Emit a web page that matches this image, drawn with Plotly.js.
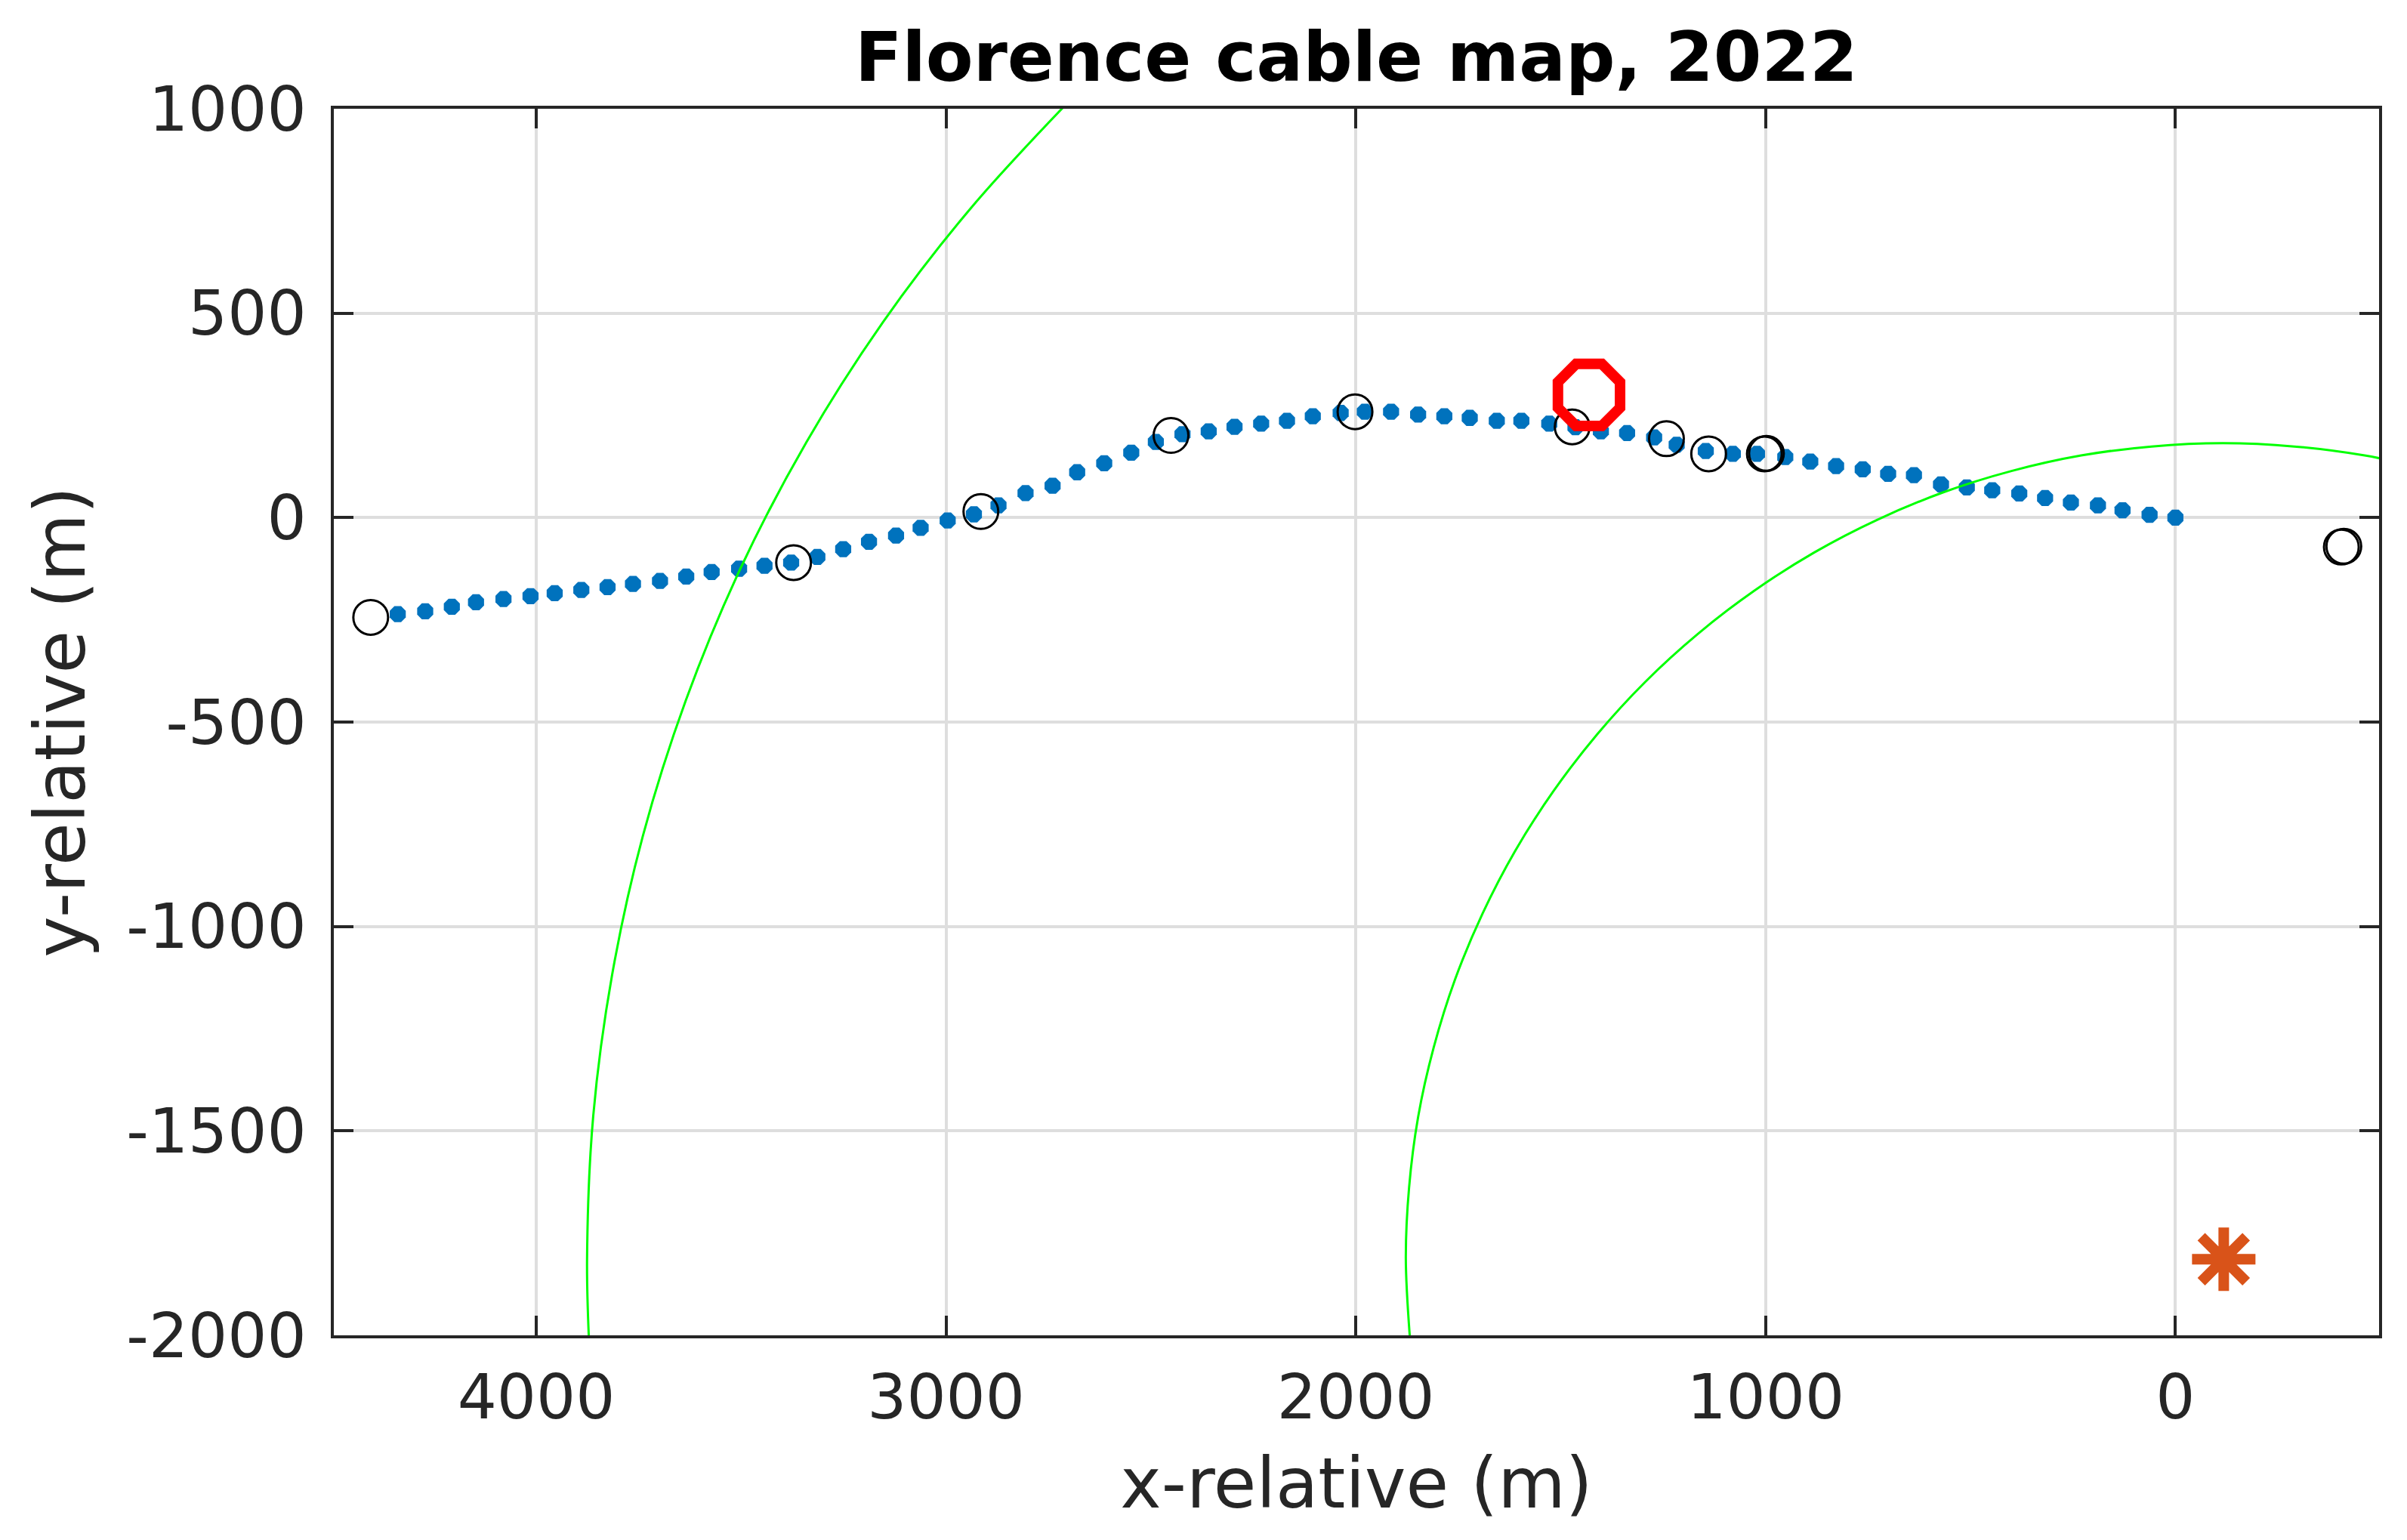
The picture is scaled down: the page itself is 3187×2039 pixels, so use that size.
<!DOCTYPE html>
<html><head><meta charset="utf-8">
<script src="https://cdn.plot.ly/plotly-3.0.1.min.js"></script>
<style>html,body{margin:0;padding:0;background:#fff}</style></head>
<body><div id="chart" style="width:3187px;height:2039px"></div>
<script>
const cableX = [4338,4271,4206,4147,4080,4014,3955,3890,3826,3764,3698,3634,3572,3505,3443,3378,3314,3251,3188,3122,3062,2996,2932,2872,2806,2740,2680,2614,2548,2488,2423,2359,2296,2231,2168,2105,2037,1978,1914,1848,1784,1722,1656,1596,1528,1464,1402,1338,1272,1217,1146,1080,1021,952,891,828,763,701,638,572,509,447,381,318,255,189,129,63,0];
const cableY = [-236,-229,-218,-207,-199,-192,-185,-177,-170,-162,-155,-144,-133,-125,-118,-110,-96,-77,-59,-44,-25,-7,8,30,60,78,111,133,159,185,204,211,222,230,237,248,256,259,259,252,248,244,237,237,230,221,211,207,196,178,163,156,156,148,137,126,118,107,104,81,74,67,59,48,37,30,18,7,0];
const ringInnerX = [1867,1878,1870,1848,1810,1758,1691,1611,1517,1411,1294,1166,1028,881,727,566,400,230,58,-116,-290,-462,-531];
const ringInnerY = [-2020,-1812,-1638,-1466,-1296,-1130,-969,-815,-668,-530,-402,-285,-179,-85,-5,62,114,152,174,182,174,152,138];
const ringOuterX = [3871,3876,3861,3815,3740,3635,3502,3341,3154,2942,2707];
const ringOuterY = [-2021,-1812,-1464,-1119,-779,-447,-125,184,478,754,1011];
const stationX = [4404,3372,2915,2451,2002,1472,1242,1139,1003,998,-411,-405];
const stationY = [-244,-110,15,201,259,222,193,156,156,157,-70,-72];
const redX = [1431];
const redY = [300];
const starX = [-118];
const starY = [-1814];
const xTicks = [4000,3000,2000,1000,0];
const xTickText = ['4000','3000','2000','1000','0'];
const yTicks = [1000,500,0,-500,-1000,-1500,-2000];
const yTickText = ['1000','500','0','-500','-1000','-1500','-2000'];
const FONT = 'DejaVu Sans', INK = '#262626', GRID = '#dedede';

const traces = [
 {x:cableX,y:cableY,type:'scatter',mode:'markers',marker:{symbol:'octagon',size:23,color:'#0072bd'}},
 {x:ringInnerX,y:ringInnerY,type:'scatter',mode:'lines',line:{color:'#00ff00',width:3,shape:'spline'}},
 {x:ringOuterX,y:ringOuterY,type:'scatter',mode:'lines',line:{color:'#00ff00',width:3,shape:'spline'}},
 {x:stationX,y:stationY,type:'scatter',mode:'markers',marker:{symbol:'circle-open',size:46,color:'#000000',line:{color:'#000000',width:3}}},
 {x:starX,y:starY,type:'scatter',mode:'markers',marker:{symbol:'asterisk-open',size:70,color:'#d95319',line:{color:'#d95319',width:14}}},
 {x:redX,y:redY,type:'scatter',mode:'markers',marker:{symbol:'octagon-open',size:89,color:'#ff0000',line:{color:'#ff0000',width:14}}}
];
const axisBase = {showline:true,linecolor:INK,linewidth:4,mirror:'ticks',ticks:'inside',ticklen:26,tickwidth:4,tickcolor:INK,
  showgrid:true,gridcolor:GRID,gridwidth:4,zeroline:false,tickfont:{family:FONT,size:82,color:INK},automargin:false};
const layout = {
 width:3187,height:2039,showlegend:false,paper_bgcolor:'#fff',plot_bgcolor:'#fff',
 margin:{l:442,r:37,t:144,b:270.5},
 title:{text:'<b>Florence cable map, 2022</b>',font:{family:FONT,size:91.5,color:'#000'},x:0.5635,xref:'container',xanchor:'center',y:0.963,yref:'container',yanchor:'middle'},
 xaxis:Object.assign({},axisBase,{range:[4494,-497],tickmode:'array',tickvals:xTicks,ticktext:xTickText,ticklabelstandoff:8,
   title:{text:'x-relative (m)',font:{family:FONT,size:92,color:INK},standoff:36}}),
 yaxis:Object.assign({},axisBase,{range:[-2000,1000],tickmode:'array',tickvals:yTicks,ticktext:yTickText,ticklabelstandoff:16,
   title:{text:'y-relative (m)',font:{family:FONT,size:92,color:INK},standoff:25}})
};
Plotly.newPlot('chart',traces,layout,{displayModeBar:false,staticPlot:true});
</script></body></html>
